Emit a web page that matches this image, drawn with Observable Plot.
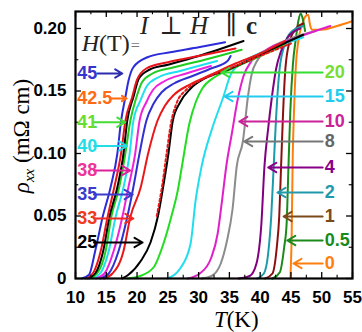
<!DOCTYPE html>
<html><head><meta charset="utf-8">
<script src="https://cdn.jsdelivr.net/npm/d3@7"></script>
<script src="https://cdn.jsdelivr.net/npm/@observablehq/plot@0.6"></script>
<style>body{margin:0;background:#fff}svg{overflow:visible}</style>
</head><body><div id="chart"></div>
<script>
// ---- data: [T (K), rho_xx (mOhm cm)] ----
const h45   = [[11,0],[12.2,0.003],[13.2,0.022],[14.4,0.049],[15.7,0.073],[16.8,0.1],[17.4,0.126],[18.1,0.145],[18.6,0.158],[19.4,0.169],[21.7,0.177],[25.4,0.181],[30,0.185],[34.3,0.189]];
const h42_5 = [[11.6,0],[12.8,0.004],[14.1,0.022],[15.2,0.049],[16.3,0.073],[17.4,0.1],[18.1,0.126],[19.2,0.145],[20,0.159],[21.5,0.168],[25,0.173],[30,0.178],[36,0.184]];
const h42   = [[12,0],[13.2,0.004],[14.5,0.022],[15.5,0.049],[16.8,0.073],[17.8,0.1],[18.4,0.126],[19.4,0.145],[20.3,0.16],[22,0.167],[25,0.171],[30,0.178],[37.3,0.19]];
const h41   = [[12.3,0],[13.5,0.004],[14.9,0.022],[15.8,0.049],[17.1,0.073],[18.1,0.1],[18.9,0.126],[19.9,0.145],[20.8,0.157],[22.5,0.164],[26,0.169],[31,0.175],[37,0.183]];
const h40   = [[12.7,0],[14,0.004],[15.4,0.022],[16.5,0.049],[17.8,0.073],[18.8,0.1],[19.4,0.126],[20.6,0.143],[21.6,0.154],[23.5,0.161],[27,0.166],[33,0.174]];
const h38   = [[13.3,0],[14.7,0.004],[16.2,0.022],[17.6,0.049],[18.6,0.073],[19.7,0.1],[20.4,0.126],[21.5,0.141],[22.6,0.151],[24.5,0.158],[28,0.164],[32,0.17]];
const h35   = [[14,0],[15.4,0.004],[17,0.022],[18.4,0.049],[19.4,0.073],[20.4,0.1],[21.5,0.126],[22.7,0.14],[24,0.149],[26,0.156],[29,0.162],[32,0.168],[34.7,0.174],[35.2,0.178]];
const h33   = [[14.6,0],[16,0.004],[17.8,0.022],[18.9,0.049],[20.6,0.073],[21.8,0.1],[23.3,0.126],[24.5,0.138],[26,0.147],[28.5,0.155],[32,0.163],[36,0.172],[40,0.18],[44,0.19]];
const h30d  = [[23.2,0.05],[24.1,0.075],[24.8,0.1],[25.5,0.124],[26.4,0.14],[28,0.151],[30.5,0.159],[34,0.166],[38,0.174],[42,0.182],[45,0.188]];
const h25   = [[17.6,0],[18.6,0.003],[20.6,0.014],[22.2,0.029],[23.4,0.05],[24.4,0.078],[25.1,0.1],[25.8,0.126],[27,0.141],[28.7,0.152],[31,0.16],[34.7,0.167],[38.4,0.175],[43,0.186],[47,0.195]];
const h20   = [[18.4,0],[20.5,0.002],[22.7,0.009],[24.3,0.028],[25.7,0.052],[26.6,0.07],[27.3,0.09],[28.5,0.124],[29.6,0.142],[30.6,0.152],[32.6,0.161],[35.5,0.168],[40,0.178],[44,0.187]];
const h15   = [[24.9,0],[27,0.008],[28.7,0.028],[29.5,0.062],[30.5,0.09],[32.2,0.12],[34,0.145],[35.3,0.164],[37.6,0.174],[42,0.184],[47,0.193]];
const h10   = [[28.2,0],[30.2,0.004],[32,0.016],[33.1,0.036],[33.8,0.062],[34.5,0.09],[35.4,0.116],[36.3,0.142],[37.3,0.162],[38.6,0.174],[41,0.183],[45,0.191],[51.4,0.202]];
const h8    = [[30.5,0],[32.1,0.002],[33.6,0.012],[34.6,0.03],[35.5,0.055],[36.2,0.09],[37.2,0.11],[38,0.145],[38.6,0.163],[39.6,0.175],[41.5,0.184],[45,0.192],[49,0.198]];
const h4    = [[36.5,0],[38.3,0.002],[39.4,0.012],[40.2,0.044],[40.7,0.09],[41.3,0.12],[41.9,0.145],[42.6,0.168],[43.4,0.182],[44.5,0.193],[46.5,0.2]];
const h2    = [[39.5,0],[40.6,0.004],[41.3,0.02],[41.8,0.05],[42.2,0.09],[42.6,0.13],[43.1,0.165],[43.9,0.186],[45,0.197],[47,0.202]];
const h1    = [[40.8,0],[42,0.004],[42.7,0.025],[43.1,0.05],[43.4,0.09],[43.7,0.13],[44.1,0.168],[44.8,0.19],[45.8,0.2],[47,0.204]];
const h0_5  = [[42,0],[43.2,0.005],[43.9,0.025],[44.3,0.044],[44.6,0.09],[44.9,0.134],[45.3,0.17],[45.8,0.192],[46.2,0.206],[46.6,0.212],[47,0.206],[47.3,0.198]];
const h0    = [[44.9,0],[45.1,0.03],[45.3,0.1],[45.5,0.134],[45.8,0.17],[46.2,0.19],[46.8,0.203],[47.4,0.21],[47.8,0.211],[48.1,0.203],[48.4,0.199],[50,0.199],[52.5,0.202],[55,0.206]];

// ---- ticks ----
const xTicks = [10,15,20,25,30,35,40,45,50,55];
const xMinor = [12.5,17.5,22.5,27.5,32.5,37.5,42.5,47.5,52.5];
const yTicks = [0,0.05,0.10,0.15,0.20];
const yMinor = [0.025,0.075,0.125,0.175];

// ---- field labels ----
const leftNames = ["45","42.5","41","40","38","35","33","25"];
const leftRho   = [0.164,0.144,0.125,0.106,0.0864,0.0672,0.048,0.0288];
const leftTail  = [13.6,15.7,13.0,13.0,13.0,13.0,13.0,13.0];
const leftTip   = [17.6,18.3,18.1,18.4,18.9,19.3,19.4,20.9];
const rightNames = ["20","15","10","8","4","2","1","0.5","0"];
const rightRho   = [0.1648,0.1456,0.1256,0.1096,0.0888,0.0688,0.0496,0.0304,0.012];
const rightTip   = [33.7,34.2,36.6,37.4,41.3,42.8,43.8,44.4,45.4];

// ---- title pieces: [text, T position, style] ----
const titleText = ["I", "⊥", "H", "∥", "c"];
const titleT    = [20.55, 23.7, 28.7, 34.4, 37.8];
const titleRho  = 0.1952;

// ---- styles ----
const curves = [
  {d:h0,   c:"#ff7f0e"}, {d:h0_5, c:"#1a8a1a"}, {d:h1, c:"#8b0f0f"}, {d:h2, c:"#1a9aaa"},
  {d:h4,   c:"#800080"}, {d:h8, c:"#8c8c8c"}, {d:h10, c:"#e020c8"}, {d:h15, c:"#22ddee"},
  {d:h20,  c:"#22dd22"}, {d:h25, c:"#000000"}, {d:h30d, c:"#e81818", dash:"2.5,2.5"},
  {d:h33,  c:"#e81818"}, {d:h35, c:"#3030d0"}, {d:h38, c:"#ee22dd"}, {d:h40, c:"#1ee0f0"},
  {d:h41,  c:"#1fcc1f"}, {d:h42, c:"#000000"}, {d:h42_5, c:"#e8141c"}, {d:h45, c:"#2b2bd9"}
];
const leftText  = ["#3535cc","#ff6a13","#66dd33","#22dde8","#ee3399","#3b3bcc","#f03a20","#000000"];
const leftArrow = ["#2b2bb0","#ff6a13","#44dd33","#22dde8","#dd2299","#3b3bcc","#f02a20","#000000"];
const rightText  = ["#77dd33","#22ccee","#cc2299","#666666","#880088","#2299aa","#7a4a1a","#1a8a1a","#ff7f0e"];
const rightArrow = ["#33dd33","#22ccee","#cc2299","#777777","#880088","#2299aa","#7a4a1a","#1a8a1a","#ff7f0e"];
const titleStyle = [{fs:"italic"},{},{fs:"italic"},{},{fw:"bold"}];

const yMax = 0.2136;
const dx = 0.97, dy = 0.0048;
const NARROW = "'Liberation Sans Narrow','Arial Narrow','Liberation Sans',sans-serif";
const SERIF = "'Liberation Serif','DejaVu Serif',serif";

const left = leftNames.map((n,i)=>({n, rho:leftRho[i], t1:leftTail[i], t2:leftTip[i], tc:leftText[i], ac:leftArrow[i]}));
const right = rightNames.map((n,i)=>({n, rho:rightRho[i], t2:rightTip[i], tc:rightText[i], ac:rightArrow[i]}));

const plot = Plot.plot({
  width: 362, height: 332,
  marginLeft: 75, marginRight: 10, marginTop: 11, marginBottom: 54,
  x: {domain: [10, 55]},
  y: {domain: [0, yMax]},
  color: {type: "identity"},
  style: {fontFamily: NARROW, background: "#fff", overflow: "visible"},
  marks: [
    ...curves.map(k => Plot.line(k.d, {x: d=>d[0], y: d=>d[1], stroke: k.c, strokeWidth: 2, curve: "monotone-x", strokeDasharray: k.dash})),
    Plot.ruleX(xTicks, {x: d=>d, y1: 0, y2: dy, strokeWidth: 1.3}),
    Plot.ruleX(xMinor, {x: d=>d, y1: 0, y2: dy*0.55, strokeWidth: 1.1}),
    Plot.ruleX(xTicks, {x: d=>d, y1: yMax, y2: yMax-dy, strokeWidth: 1.3}),
    Plot.ruleX(xMinor, {x: d=>d, y1: yMax, y2: yMax-dy*0.55, strokeWidth: 1.1}),
    Plot.ruleY(yTicks, {y: d=>d, x1: 10, x2: 10+dx, strokeWidth: 1.3}),
    Plot.ruleY(yMinor, {y: d=>d, x1: 10, x2: 10+dx*0.55, strokeWidth: 1.1}),
    Plot.ruleY(yTicks, {y: d=>d, x1: 55, x2: 55-dx, strokeWidth: 1.3}),
    Plot.ruleY(yMinor, {y: d=>d, x1: 55, x2: 55-dx*0.55, strokeWidth: 1.1}),
    Plot.arrow(left, {x1: "t1", x2: "t2", y1: "rho", y2: "rho", stroke: "ac", strokeWidth: 2, headLength: 7}),
    Plot.arrow(right, {x1: 50.15, x2: "t2", y1: "rho", y2: "rho", stroke: "ac", strokeWidth: 2, headLength: 7}),
    Plot.text(left, {x: 10.3, y: "rho", text: "n", fill: "tc", textAnchor: "start", fontSize: 18, fontWeight: "bold", fontFamily: NARROW}),
    Plot.text(right, {x: 50.5, y: "rho", text: "n", fill: "tc", textAnchor: "start", fontSize: 18, fontWeight: "bold", fontFamily: NARROW}),
    Plot.frame({strokeWidth: 2.2}),
    Plot.axisX({ticks: xTicks, tickSize: 0, tickPadding: 12, fontSize: 17, fontWeight: "bold", fontFamily: NARROW, label: null}),
    Plot.axisY({ticks: yTicks, tickSize: 0, tickPadding: 9, fontSize: 17, fontWeight: "bold", fontFamily: NARROW, label: null,
                tickFormat: d => d === 0 ? "0" : d.toFixed(2)})
  ]
});

document.getElementById("chart").appendChild(plot);

// ---- serif annotations (real text), positioned through the chart's scales ----
const sx = plot.scale("x"), sy = plot.scale("y");
const svg = d3.select(plot);
// y title
const yt = svg.append("text")
  .attr("transform", `translate(29,${sy.apply(0.1136)}) rotate(-90)`)
  .attr("text-anchor", "middle").attr("font-family", SERIF).attr("font-size", 23).attr("fill", "#000");
yt.append("tspan").attr("font-style", "italic").text("ρ");
yt.append("tspan").attr("font-style", "italic").attr("font-size", 15).attr("dy", 5).text("xx");
yt.append("tspan").attr("dy", -5).text(" (mΩ cm)");
// x title
const xt = svg.append("text")
  .attr("x", sx.apply(36.2)).attr("y", 327)
  .attr("text-anchor", "middle").attr("font-family", SERIF).attr("font-size", 23).attr("fill", "#000");
xt.append("tspan").attr("font-style", "italic").text("T");
xt.append("tspan").text("(K)");
// H(T)=
const ht = svg.append("text")
  .attr("x", sx.apply(11.1)).attr("y", sy.apply(0.1815)).attr("text-anchor", "start")
  .attr("font-family", SERIF).attr("font-size", 24).attr("fill", "#222");
ht.append("tspan").attr("font-style", "italic").text("H");
ht.append("tspan").text("(T)");
ht.append("tspan").attr("font-size", 16).attr("fill", "#777").attr("dx", 1).text("=");
// I ⊥ H ∥ c
titleText.forEach((s, i) => {
  svg.append("text")
    .attr("x", sx.apply(titleT[i])).attr("y", sy.apply(titleRho)).attr("text-anchor", "start")
    .attr("font-family", SERIF).attr("font-size", 25).attr("fill", "#222")
    .attr("font-style", titleStyle[i].fs || null).attr("font-weight", titleStyle[i].fw || null)
    .text(s);
});
</script>
</body></html>
